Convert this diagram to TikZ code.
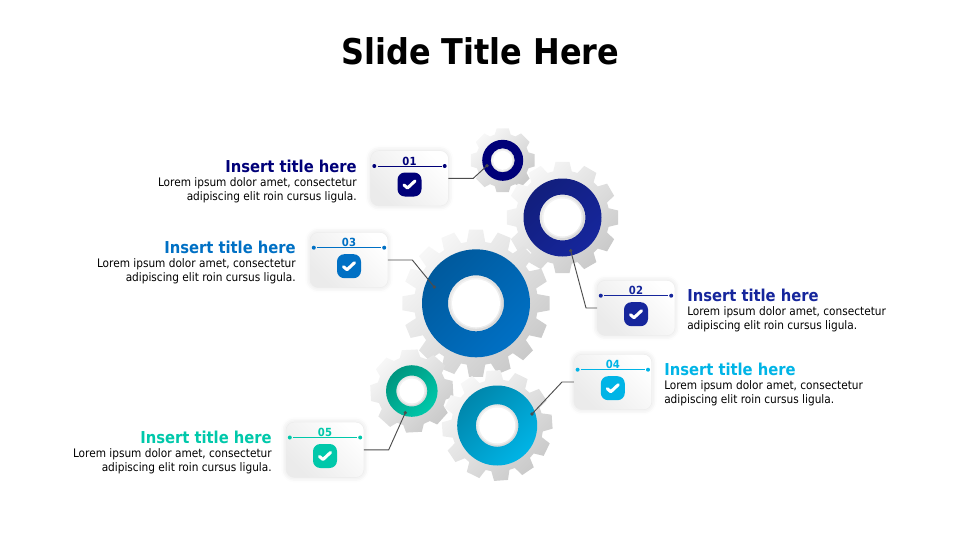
\documentclass[tikz,border=0pt]{standalone}
\usepackage{fontspec}
\setmainfont{DejaVu Sans Condensed}
\usetikzlibrary{calc, shadows.blur}

\definecolor{navyone}{HTML}{000078}
\definecolor{bluetwo}{HTML}{16269C}
\definecolor{bluethree}{HTML}{0070C4}
\definecolor{cyanfour}{HTML}{00B4E6}
\definecolor{tealfive}{HTML}{00C8AA}

\tikzset{
	softshadow/.style = {blur shadow = {shadow xshift = 0pt, shadow yshift = 0pt, shadow blur radius = 4pt, shadow opacity = 14}},
	cardbox/.style = {rounded corners = 6pt, minimum width = 58pt, minimum height = 41pt, inner sep = 0pt, left color = white, right color = black!8, shading angle = -45, softshadow},
	badge/.style = {rounded corners = 5.5pt, minimum width = 18pt, minimum height = 18pt, inner sep = 0pt},
	tick/.style = {white, line width = 2.3pt, line cap = round, line join = round},
	leader/.style = {black!70, line width = 0.7pt},
	headtext/.style = {font = \fontsize{12.3}{14}\selectfont\bfseries},
	bodytext/.style = {font = \fontsize{8.8}{10.5}\selectfont, black}
}

% root radius, tip radius, teeth, phase
\newcommand{\gearpath}[4]{
	({#4-0.38*360/#3}:#1)
	\foreach \k in {1,...,#3}
	{
		-- ({#4+(\k-1-0.24)*360/#3}:#2) -- ({#4+(\k-1+0.24)*360/#3}:#2)
		-- ({#4+(\k-1+0.38)*360/#3}:#1) -- ({#4+(\k-0.38)*360/#3}:#1)
	}
	-- cycle
}

\begin{document}
\begin{tikzpicture}[x = 0.75pt, y = -0.75pt]
	\useasboundingbox (0,0) rectangle (960,540);

	\node [font = \fontsize{26.6}{30}\selectfont\bfseries] (slidetitle) at (480.5,51) {Slide Title Here};

	% gears, back to front
	\foreach \nm/\cx/\cy/\root/\tip/\teeth/\phase/\ro/\ri/\rw/\cdark/\clight in {
		one/502.7/160.3/27/32.5/8/0/20.5/12/9.5/navyone/navyone,
		two/562.5/217.5/47/56/12/0/39/23/19/bluetwo!80!black/bluetwo,
		three/476/303.3/62/74/16/0/54/28/24/bluethree!80!black/bluethree,
		five/411.8/391/35/42/8/-3/25.8/15.5/12.5/tealfive!75!black/tealfive,
		four/497.2/425.5/46/55.5/12/-4/40/21.3/18/cyanfour!75!black/cyanfour}
	{
		\begin{scope}[shift = {(\cx,\cy)}]
			\shade [left color = black!3, right color = black!21, shading angle = 45] \gearpath{\root}{\tip}{\teeth}{\phase};
			\path [even odd rule, left color = \cdark, right color = \clight, shading angle = 45] (0,0) circle (\ro) (0,0) circle (\ri);
			\fill [white, opacity = 0.5] (0,0) circle ({\rw+1.5});
			\fill [white] (0,0) circle (\rw);
		\end{scope}
	}

	% cards
	\foreach \nm/\cx/\cy/\clr in {01/409.5/178.3/navyone, 02/636/308/bluetwo, 03/349/260/bluethree, 04/612.8/382/cyanfour, 05/325/449.8/tealfive}
	{
		\node [cardbox] (card\nm) at (\cx,\cy) {};
		\node [badge, fill = \clr] (badge\nm) at (\cx,{\cy+6.2}) {};
		\draw [tick] ($(badge\nm)+(-5.5,0.5)$) -- ($(badge\nm)+(-2,3.5)$) -- ($(badge\nm)+(5.5,-3.5)$);
		\node [font = \fontsize{8.4}{10}\selectfont\bfseries, text = \clr, inner sep = 0pt] (num\nm) at (\cx,{\cy-17.3}) {\nm};
		\draw [\clr, line width = 0.5pt] ($(card\nm)+(-32,-12.3)$) -- ($(card\nm)+(32,-12.3)$);
		\fill [\clr] ($(card\nm)+(-35.2,-12.3)$) circle (2);
		\fill [\clr] ($(card\nm)+(35.2,-12.3)$) circle (2);
	}

	% connectors
	\coordinate (bend01) at (473.3,178.3);
	\coordinate (dot01) at (487,165.7);
	\coordinate (bend02) at (586,308);
	\coordinate (dot02) at (570.7,250.7);
	\coordinate (bend03) at (412.3,260);
	\coordinate (dot03) at (434.3,287);
	\coordinate (bend04) at (562,382);
	\coordinate (dot04) at (532,414);
	\coordinate (bend05) at (388.7,449.8);
	\coordinate (dot05) at (405.3,412.7);

	\draw [leader] (card01.east) -- (bend01) -- (dot01);
	\draw [leader] (card02.west) -- (bend02) -- (dot02);
	\draw [leader] (card03.east) -- (bend03) -- (dot03);
	\draw [leader] (card04.west) -- (bend04) -- (dot04);
	\draw [leader] (card05.east) -- (bend05) -- (dot05);

	\foreach \nm in {01,02,03,04,05}
	{
		\fill [black!70] (dot\nm) circle (1.8);
	}

	% texts
	\foreach \nm/\x/\y/\anc/\al/\clr in {01/357/172/east/right/navyone, 02/687/301/west/left/bluetwo, 03/296/253/east/right/bluethree, 04/664/375/west/left/cyanfour, 05/272/443/east/right/tealfive}
	{
		\node [headtext, text = \clr, anchor = base \anc, inner sep = 0pt] (head\nm) at (\x,\y) {Insert title here};
		\node [bodytext, anchor = north \anc, align = \al, inner sep = 0pt] (body\nm) at (\x,{\y+5.8}) {Lorem ipsum dolor amet, consectetur\\adipiscing elit roin cursus ligula.};
	}
\end{tikzpicture}
\end{document}
